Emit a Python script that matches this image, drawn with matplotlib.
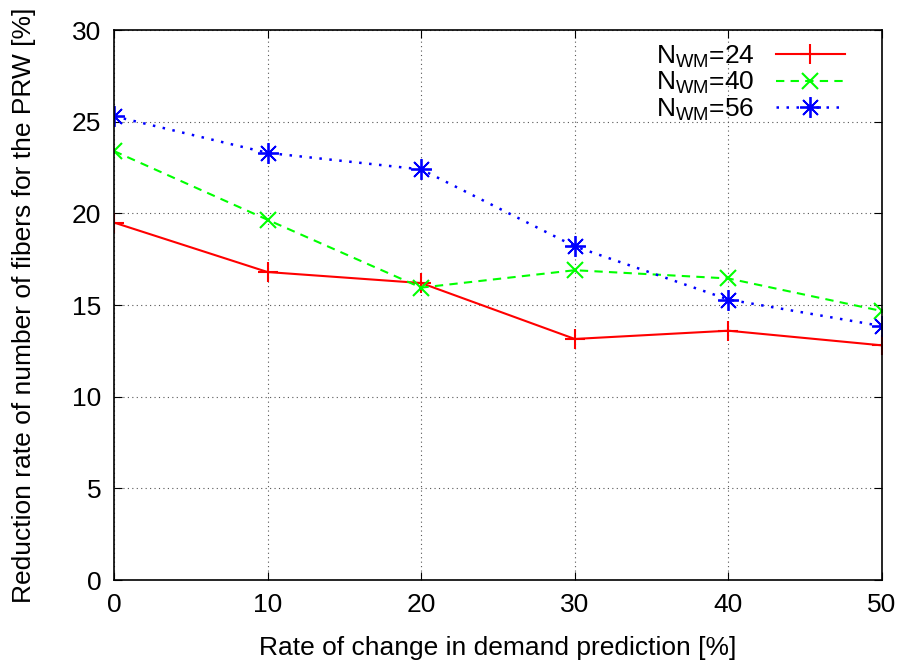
import matplotlib
matplotlib.use('Agg')
import matplotlib.pyplot as plt

plt.rcParams['font.family'] = ['Liberation Sans', 'DejaVu Sans']
plt.rcParams['mathtext.fontset'] = 'custom'
plt.rcParams['mathtext.rm'] = 'Liberation Sans'

rate = [0, 10, 20, 30, 40, 50]
nwm24 = [19.5, 16.8, 16.2, 13.15, 13.6, 12.8]
nwm40 = [23.4, 19.65, 15.95, 16.9, 16.45, 14.67]
nwm56 = [25.3, 23.3, 22.4, 18.2, 15.3, 13.85]

fig = plt.figure(figsize=(9.06, 6.68), dpi=100)
ax = fig.add_axes([0.1258, 0.1317, 0.8477, 0.8233])

ax.plot(rate, nwm24, color='#ff0000', lw=1.5, ls='-', marker='+', ms=15, mew=1.5,
        label=r'N$_{\rm WM}$=24')
ax.plot(rate, nwm40, color='#00ff00', lw=1.5, ls=(0, (4, 3)), marker='x', ms=12, mew=1.5,
        label=r'N$_{\rm WM}$=40')
ax.plot(rate, nwm56, color='#0000ff', lw=1.8, ls=(0, (1, 3)), marker=(8, 2, 0), ms=15, mew=1.3,
        label=r'N$_{\rm WM}$=56')

ax.set_xlim(0, 50)
ax.set_ylim(0, 30)
ax.set_xticks(rate)
ax.set_yticks([0, 5, 10, 15, 20, 25, 30])
ax.tick_params(direction='in', top=True, right=True, length=6, labelsize=19, pad=9)
ax.grid(True, color='#555555', ls=(0, (1, 3)), lw=0.8)
for s in ax.spines.values():
    s.set_linewidth(1.2)

ax.set_xlabel('Rate of change in demand prediction [%]', fontsize=19, labelpad=14)
ax.set_ylabel('Reduction rate of number of fibers for the PRW [%]', fontsize=19, labelpad=26)

leg = ax.legend(loc='upper right', frameon=False, markerfirst=False, fontsize=19,
                handlelength=2.6, labelspacing=0.0, borderaxespad=0.0, handletextpad=0.8,
                bbox_to_anchor=(0.965, 0.995))
for t in leg.get_texts():
    t.set_ha('right')

fig.savefig('out.png', dpi=100)
